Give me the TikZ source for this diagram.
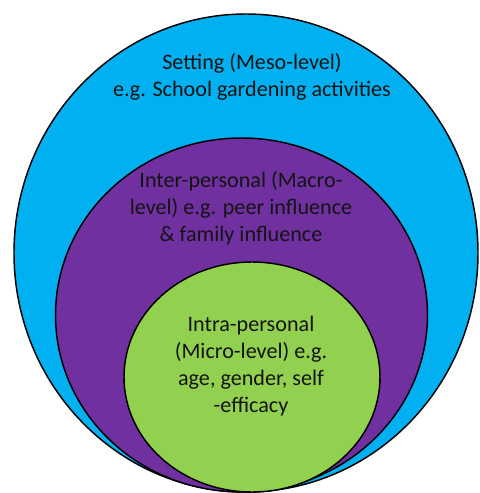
\documentclass[tikz,border=0pt]{standalone}
\usepackage{fontspec}
\setmainfont{Carlito}
\definecolor{outerblue}{HTML}{00B0F0}
\definecolor{midpurple}{HTML}{7030A0}
\definecolor{innergreen}{HTML}{92D050}
\definecolor{txt}{HTML}{141414}
\begin{document}
\begin{tikzpicture}[x=0.75pt,y=-0.75pt,
  ring/.style={draw=black,line width=1.1pt},
  lbl/.style={align=center,text=txt,font=\fontsize{16.6}{20.4}\selectfont,inner sep=0pt}]
\useasboundingbox (0,0) rectangle (479,493);
\fill[white] (0,0) rectangle (479,493);
\draw[ring,fill=outerblue] (246,253) ellipse [x radius=174pt, y radius=179.25pt];
\draw[ring,fill=midpurple] (241.5,315) ellipse [x radius=139.5pt, y radius=132.75pt];
\draw[ring,fill=innergreen] (252,377) ellipse [x radius=96pt, y radius=86.25pt];
\node[lbl] (setting) at (252,77) {Setting (Meso-level)\\e.g. School gardening activities};
\node[lbl] (inter) at (241,208) {Inter-personal (Macro-\\level) e.g. peer influence\\\& family influence};
\node[lbl] (intra) at (251,366) {Intra-personal\\(Micro-level) e.g.\\age, gender, self\\-efficacy};
\end{tikzpicture}
\end{document}
